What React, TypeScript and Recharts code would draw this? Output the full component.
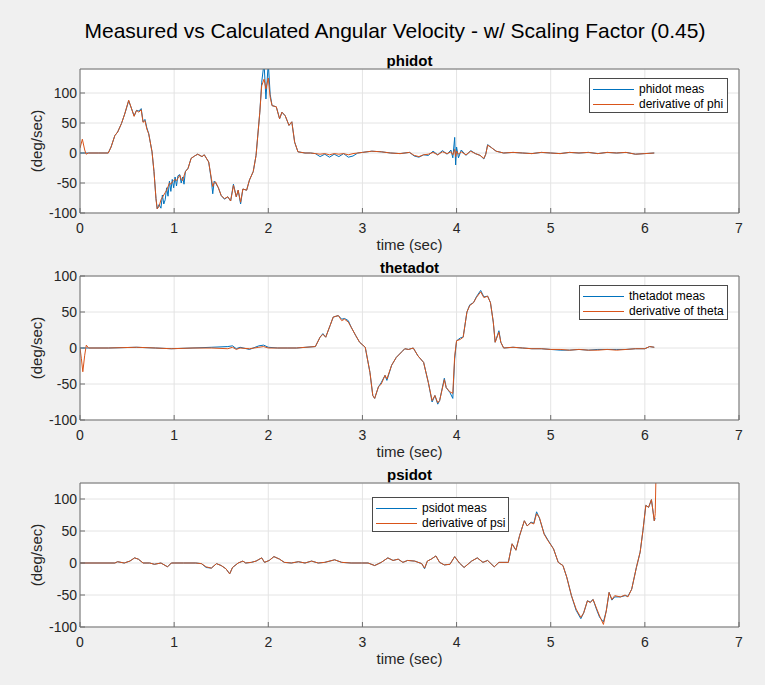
import React from 'react';
import { LineChart, Line, XAxis, YAxis, CartesianGrid, Legend } from 'recharts';

// ---- shared axis settings ----
const FIG_TITLE = 'Measured vs Calculated Angular Velocity - w/ Scaling Factor (0.45)';
const X_TICKS = [0, 1, 2, 3, 4, 5, 6, 7];
const Y_TICKS = [-100, -50, 0, 50, 100];
const X_LABEL = 'time (sec)';
const Y_LABEL = '(deg/sec)';

// ---- phidot ----
const PHI_T = [
  0, 0.025, 0.05, 0.065, 0.09, 0.2, 0.3, 0.33, 0.37, 0.4,
  0.44, 0.475, 0.517, 0.545, 0.575, 0.6, 0.625, 0.65, 0.67, 0.69,
  0.71, 0.73, 0.765, 0.786, 0.807, 0.82, 0.84, 0.86, 0.875, 0.89,
  0.905, 0.92, 0.935, 0.95, 0.965, 0.98, 0.995, 1.01, 1.025, 1.04,
  1.06, 1.075, 1.09, 1.105, 1.12, 1.147, 1.18, 1.217, 1.25, 1.296,
  1.32, 1.367, 1.395, 1.41, 1.425, 1.44, 1.47, 1.5, 1.535, 1.57,
  1.6, 1.63, 1.66, 1.68, 1.706, 1.73, 1.77, 1.8, 1.84, 1.87,
  1.91, 1.93, 1.955, 1.975, 2.0, 2.02, 2.04, 2.085, 2.12, 2.145,
  2.18, 2.22, 2.25, 2.28, 2.315, 2.39, 2.45, 2.5, 2.55, 2.6,
  2.65, 2.7, 2.75, 2.8, 2.85, 2.9, 2.95, 3.0, 3.1, 3.2,
  3.3, 3.4, 3.5, 3.55, 3.6, 3.65, 3.7, 3.75, 3.8, 3.85,
  3.9, 3.94, 3.96, 3.98, 3.99, 4.0, 4.02, 4.05, 4.1, 4.15,
  4.2, 4.25, 4.29, 4.31, 4.33, 4.37, 4.42, 4.5, 4.6, 4.7,
  4.8, 4.9, 5.0, 5.1, 5.2, 5.3, 5.4, 5.5, 5.6, 5.7,
  5.8, 5.9, 6.0, 6.1,
];
const PHI_MEAS = [
  0, 0, 0, 0, 0, 0, 0, 10, 29, 35,
  49, 65, 87, 75, 62, 71, 70, 74, 52, 56,
  42, 32, 2, -31, -76, -93, -86, -92, -70, -85,
  -78, -58, -72, -47, -64, -44, -58, -40, -55, -38,
  -36, -50, -40, -52, -30, -26, -9, -5, -2, -6,
  -3, -15, -45, -68, -47, -50, -58, -71, -77, -73,
  -80, -52, -73, -62, -85, -60, -62, -45, -31, -4,
  68, 118, 150, 90, 150, 98, 79, 77, 57, 68,
  62, 46, 52, 18, 2, 0, 0, -1, -6, -2,
  -7, -2, -6, -1, -7, -5, 0, 1, 3, 2,
  0, -1, 1, -5, -7, -3, -4, 3, -3, 4,
  -2, 5, -8, 26, -20, 10, -8, 5, -4, 4,
  -1, -4, -10, -2, 14, 9, 3, 0, 1, 0,
  -1, 1, 0, -1, 1, 0, 1, -1, 1, 0,
  1, -2, -1, 0,
];
const PHI_DERIV = [
  8, 23, 5, -2, 0, 0, 0, 10, 29, 35,
  49, 65, 88, 75, 61, 71, 68, 72, 51, 54,
  40, 32, 2, -31, -76, -93, -89, -78, -74, -70,
  -66, -62, -56, -50, -52, -48, -46, -44, -46, -42,
  -37, -44, -46, -38, -31, -26, -9, -5, -2, -6,
  -3, -15, -42, -56, -50, -48, -58, -71, -76, -73,
  -80, -54, -73, -62, -82, -60, -62, -45, -31, -4,
  68, 112, 123, 107, 125, 93, 79, 77, 57, 68,
  62, 46, 52, 18, 2, 0, 0, -1, -2, -1,
  -3, -1, -2, -1, -3, -1, 0, 1, 3, 2,
  0, -1, 1, -4, -6, -3, -2, 1, -3, 2,
  -1, 2, -3, 6, -6, 3, -2, 2, -3, 3,
  -1, -4, -9, -2, 13, 9, 3, 0, 1, 0,
  -1, 1, 0, -1, 1, 0, 1, -1, 1, 0,
  1, -2, -1, 0,
];

// ---- thetadot ----
const THETA_T = [
  0, 0.015, 0.03, 0.05, 0.067, 0.09, 0.3, 0.6, 0.8, 0.97,
  1.2, 1.4, 1.57, 1.62, 1.66, 1.7, 1.8, 1.9, 1.95, 2.0,
  2.1, 2.2, 2.3, 2.4, 2.5, 2.55, 2.58, 2.61, 2.656, 2.69,
  2.744, 2.78, 2.81, 2.85, 2.88, 2.93, 2.97, 3.03, 3.04, 3.08,
  3.11, 3.13, 3.17, 3.2, 3.24, 3.26, 3.31, 3.36, 3.42, 3.45,
  3.49, 3.54, 3.59, 3.65, 3.7, 3.74, 3.77, 3.8, 3.82, 3.87,
  3.89, 3.93, 3.96, 3.98, 4.0, 4.04, 4.07, 4.11, 4.14, 4.18,
  4.21, 4.256, 4.29, 4.33, 4.36, 4.39, 4.41, 4.45, 4.47, 4.5,
  4.6, 4.7, 4.8, 4.9, 5.0, 5.1, 5.2, 5.3, 5.4, 5.5,
  5.6, 5.7, 5.8, 5.9, 6.0, 6.05, 6.1,
];
const THETA_MEAS = [
  0, 0, 0, 0, 0, 0, 0, 1, 0, -1,
  0, 1, 2, 3, -1, 1, -2, 3, 4, 1,
  0, 0, 0, 1, 2, 15, 20, 15, 31, 43,
  45, 40, 41, 38, 29, 17, 8, 1, -6, -34,
  -66, -70, -54, -48, -38, -45, -24, -13, -5, -1,
  -2, 0, -11, -20, -48, -75, -66, -78, -73, -42,
  -55, -62, -70, -15, 10, 14, 15, 50, 60, 63,
  71, 80, 71, 72, 63, 36, 8, 24, 8, 0,
  1, 0, -1, -1, -2, -3, -3, -2, -3, -2,
  -2, -2, -2, -1, -1, 2, 1,
];
const THETA_DERIV = [
  0, -15, -33, -10, 4, 0, 0, 1, 0, -1,
  0, 0, -1, 1, -2, 0, -1, 1, 2, 0,
  0, 0, 0, 1, 2, 15, 19, 15, 31, 43,
  45, 38, 40, 36, 29, 17, 8, 1, -6, -34,
  -66, -70, -54, -50, -38, -43, -24, -13, -5, -1,
  -2, 0, -11, -20, -48, -73, -66, -76, -73, -44,
  -55, -61, -63, -11, 10, 12, 15, 50, 59, 63,
  70, 78, 70, 72, 63, 36, 8, 22, 8, 0,
  1, 0, -1, -1, -2, -2, -3, -2, -3, -3,
  -2, -3, -2, -1, -1, 2, 1,
];

// ---- psidot ----
const PSI_T = [
  0, 0.37, 0.4, 0.47, 0.53, 0.58, 0.62, 0.67, 0.74, 0.79,
  0.86, 0.93, 0.97, 1.1, 1.23, 1.29, 1.34, 1.395, 1.45, 1.5,
  1.55, 1.59, 1.62, 1.68, 1.73, 1.76, 1.82, 1.87, 1.93, 1.96,
  2.01, 2.06, 2.12, 2.17, 2.245, 2.32, 2.39, 2.46, 2.53, 2.6,
  2.705, 2.78, 2.88, 2.99, 3.06, 3.13, 3.2, 3.27, 3.325, 3.38,
  3.43, 3.48, 3.555, 3.63, 3.66, 3.69, 3.73, 3.78, 3.82, 3.87,
  3.93, 3.98, 4.03, 4.08, 4.16, 4.22, 4.28, 4.33, 4.4, 4.45,
  4.55, 4.59, 4.63, 4.67, 4.72, 4.75, 4.79, 4.82, 4.85, 4.88,
  4.93, 4.97, 5.03, 5.08, 5.13, 5.17, 5.22, 5.27, 5.32, 5.35,
  5.39, 5.42, 5.45, 5.49, 5.52, 5.56, 5.59, 5.62, 5.65, 5.68,
  5.74, 5.79, 5.82, 5.86, 5.91, 5.95, 5.98, 6.01, 6.04, 6.07,
  6.1, 6.11, 6.12,
];
const PSI_MEAS = [
  0, 0, 2, 0, 3, 8, 6, 0, 0, -2,
  0, -6, 0, 0, 0, -1, -7, -8, -1, -4,
  -9, -17, -7, 0, 3, 0, 1, 3, 8, 1,
  4, 10, 6, 1, 0, 2, 0, 3, 0, 1,
  5, 1, 0, 0, 0, -4, 1, 8, 4, 6,
  1, 4, 3, -1, -9, 3, 6, 11, 1, -3,
  -2, 10, 0, -7, 3, 8, 1, 4, -6, 1,
  1, 30, 20, 43, 66, 58, 64, 62, 80, 70,
  46, 36, 22, 1, -4, -22, -51, -74, -87, -78,
  -59, -61, -57, -74, -85, -92, -75, -46, -58, -53,
  -53, -51, -52, -41, -7, 17, 51, 90, 87, 99,
  66, 70, null,
];
const PSI_DERIV = [
  0, 0, 2, 0, 3, 8, 6, 0, 0, -2,
  0, -6, 0, 0, 0, -1, -6, -8, -1, -4,
  -9, -17, -7, 0, 3, 0, 1, 3, 8, 1,
  4, 10, 6, 1, 0, 2, 0, 3, 0, 1,
  5, 1, 0, 0, 0, -4, 1, 8, 4, 6,
  1, 4, 3, -1, -8, 3, 6, 11, 1, -3,
  -2, 10, 0, -7, 3, 8, 1, 4, -6, 1,
  1, 30, 20, 43, 66, 58, 63, 61, 77, 71,
  45, 35, 22, 1, -4, -22, -51, -72, -85, -78,
  -59, -62, -57, -72, -83, -96, -75, -46, -57, -51,
  -53, -50, -53, -41, -7, 17, 51, 90, 87, 99,
  66, 77, 150,
];

const BLUE = '#0072BD';
const ORANGE = '#D95319';
const AXIS = '#6e6e6e';
const GRID = '#e4e4e4';
const TEXT = '#262626';
const FONT = '"Liberation Sans", Arial, Helvetica, sans-serif';

const W = 765;
const PLOT_LEFT = 80;
const PLOT_RIGHT = 739;
const PLOT_H = 144;

type Row = { t: number; meas: number | null; deriv: number | null };

function buildRows(t: number[], meas: (number | null)[], deriv: (number | null)[]): Row[] {
  return t.map((x, i) => ({ t: x, meas: meas[i], deriv: deriv[i] }));
}

// Legend box with entries kept in series order (measured first, then derivative)
function LegendBox(props: any) {
  const { payload, width, order } = props;
  const items = [...(payload || [])].sort(
    (a: any, b: any) => order.indexOf(a.value) - order.indexOf(b.value)
  );
  return (
    <div
      style={{
        width,
        height: 35,
        boxSizing: 'border-box',
        border: '1px solid #4a4a4a',
        background: '#ffffff',
        position: 'relative',
        fontFamily: FONT,
        fontSize: 12,
        color: '#000',
      }}
    >
      {items.map((it: any, i: number) => (
        <div key={i} style={{ position: 'absolute', left: 0, top: 3 + i * 15, height: 15, width: '100%' }}>
          <div style={{ position: 'absolute', left: 3, top: 7, width: 41, height: 1, background: it.color }} />
          <div style={{ position: 'absolute', left: 49, top: 0, lineHeight: '15px', whiteSpace: 'nowrap' }}>{it.value}</div>
        </div>
      ))}
    </div>
  );
}

function Text({ x, y, size, bold, rotate, color, children }: any) {
  return (
    <div
      style={{
        position: 'absolute',
        left: x,
        top: y,
        transform: `translate(-50%, -50%)${rotate ? ` rotate(${rotate}deg)` : ''}`,
        whiteSpace: 'nowrap',
        fontFamily: FONT,
        fontSize: size,
        fontWeight: bold ? 'bold' : 'normal',
        color: color || '#000',
        lineHeight: 1,
      }}
    >
      {children}
    </div>
  );
}

function Panel(props: {
  plotTop: number;
  title: string;
  yMax: number;
  rows: Row[];
  measName: string;
  derivName: string;
  legendLeft: number;
  legendTop: number;
  legendWidth: number;
}) {
  const { plotTop, title, yMax, rows, measName, derivName, legendLeft, legendTop, legendWidth } = props;
  const chartTop = plotTop - 10;
  const cx = (PLOT_LEFT + PLOT_RIGHT) / 2;
  const tickStyle = { fill: TEXT, fontSize: 14, fontFamily: FONT };
  return (
    <>
      <Text x={cx} y={plotTop - 9} size={15} bold>
        {title}
      </Text>
      <div style={{ position: 'absolute', left: 0, top: chartTop }}>
        <LineChart
          width={W}
          height={10 + PLOT_H + 30}
          data={rows}
          margin={{ top: 9, right: W - PLOT_RIGHT - 1, bottom: 0, left: 0 }}
        >
          <CartesianGrid stroke={GRID} fill="#ffffff" />
          <XAxis
            dataKey="t"
            type="number"
            domain={[0, 7]}
            ticks={X_TICKS}
            allowDataOverflow
            interval={0}
            height={30}
            tickSize={-5}
            tickMargin={15}
            stroke={AXIS}
            tick={tickStyle}
          />
          <XAxis
            xAxisId="top"
            orientation="top"
            type="number"
            domain={[0, 7]}
            ticks={X_TICKS}
            allowDataOverflow
            interval={0}
            height={1}
            tickSize={-5}
            tick={false}
            stroke={AXIS}
          />
          <YAxis
            type="number"
            domain={[-100, yMax]}
            ticks={Y_TICKS}
            allowDataOverflow
            interval={0}
            width={PLOT_LEFT}
            tickSize={-5}
            tickMargin={8}
            stroke={AXIS}
            tick={tickStyle}
          />
          <YAxis
            yAxisId="right"
            orientation="right"
            type="number"
            domain={[-100, yMax]}
            ticks={Y_TICKS}
            allowDataOverflow
            interval={0}
            width={1}
            tickSize={-5}
            tick={false}
            stroke={AXIS}
          />
          <Line
            type="linear"
            dataKey="meas"
            name={measName}
            stroke={BLUE}
            strokeWidth={1}
            dot={false}
            activeDot={false}
            isAnimationActive={false}
          />
          <Line
            type="linear"
            dataKey="deriv"
            name={derivName}
            stroke={ORANGE}
            strokeWidth={1}
            dot={false}
            activeDot={false}
            isAnimationActive={false}
          />
          <Legend
            layout="horizontal"
            align="center"
            verticalAlign="middle"
            wrapperStyle={{ left: legendLeft, top: legendTop - chartTop, width: legendWidth, height: 35 }}
            content={(p: any) => (
              <LegendBox payload={p.payload} width={legendWidth} order={[measName, derivName]} />
            )}
          />
        </LineChart>
      </div>
      <Text x={36} y={plotTop + PLOT_H / 2} size={15} rotate={-90} color={TEXT}>
        {Y_LABEL}
      </Text>
      <Text x={cx} y={plotTop + PLOT_H + 31} size={15} color={TEXT}>
        {X_LABEL}
      </Text>
    </>
  );
}

export default function App() {
  return (
    <div
      style={{
        position: 'absolute',
        left: 0,
        top: 0,
        width: W,
        height: 685,
        background: '#f0f0f0',
        overflow: 'hidden',
      }}
    >
      <Text x={395} y={30} size={21}>
        {FIG_TITLE}
      </Text>
      <Panel
        plotTop={69}
        title="phidot"
        yMax={140}
        rows={buildRows(PHI_T, PHI_MEAS, PHI_DERIV)}
        measName="phidot meas"
        derivName="derivative of phi"
        legendLeft={589}
        legendTop={78}
        legendWidth={139}
      />
      <Panel
        plotTop={276}
        title="thetadot"
        yMax={100}
        rows={buildRows(THETA_T, THETA_MEAS, THETA_DERIV)}
        measName="thetadot meas"
        derivName="derivative of theta"
        legendLeft={579}
        legendTop={285}
        legendWidth={149}
      />
      <Panel
        plotTop={483}
        title="psidot"
        yMax={125}
        rows={buildRows(PSI_T, PSI_MEAS, PSI_DERIV)}
        measName="psidot meas"
        derivName="derivative of psi"
        legendLeft={372}
        legendTop={497}
        legendWidth={137}
      />
    </div>
  );
}
